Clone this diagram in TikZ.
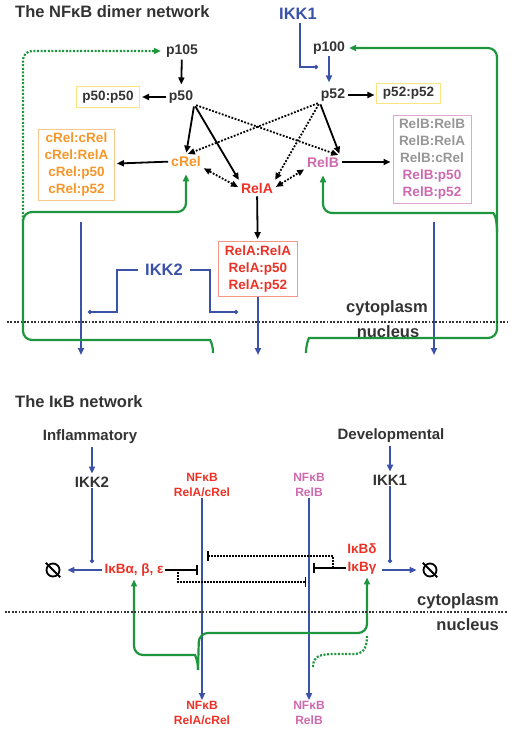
\documentclass[tikz,border=0pt]{standalone}
\usepackage{fontspec}
\setmainfont{Liberation Sans}
\usepackage{tikz}
\usetikzlibrary{arrows,arrows.meta}
\usetikzlibrary{positioning}

\definecolor{txtgray}{RGB}{51,51,51}
\definecolor{ikkblue}{RGB}{58,82,168}
\definecolor{loopgreen}{RGB}{30,150,62}
\definecolor{relared}{RGB}{236,50,38}
\definecolor{crelorange}{RGB}{247,150,40}
\definecolor{relbpink}{RGB}{205,105,175}
\definecolor{dimgray}{RGB}{150,150,150}
\definecolor{boxyellow}{RGB}{252,228,130}
\definecolor{boxorange}{RGB}{250,200,140}
\definecolor{boxred}{RGB}{245,150,135}
\definecolor{boxpink}{RGB}{225,165,210}

\begin{document}
\begin{tikzpicture}[x=1pt, y=-1pt,
	every node/.style={font=\bfseries\fontsize{14}{16}\selectfont, text=txtgray, inner sep=1pt},
	title/.style={font=\bfseries\fontsize{16.5}{19}\selectfont, anchor=west},
	big/.style={font=\bfseries\fontsize{16.5}{19}\selectfont},
	mid/.style={font=\bfseries\fontsize{15}{18}\selectfont},
	small/.style={font=\bfseries\fontsize{12}{15}\selectfont, align=center},
	dimbox/.style={draw, line width=1pt, align=center, inner xsep=6pt, inner ysep=4pt, font=\bfseries\fontsize{13.5}{17}\selectfont},
	tip/.style={-{Triangle[length=7pt,width=6pt]}},
	arr/.style={tip, line width=1.8pt, black, shorten >=2pt, shorten <=2pt},
	dotarr/.style={arr, dash pattern=on 1.8pt off 1.6pt},
	dotboth/.style={dotarr, {Triangle[length=7pt,width=6pt]}-{Triangle[length=7pt,width=6pt]}},
	barr/.style={tip, line width=1.8pt, ikkblue},
	bhit/.style={-{Circle[length=4pt]}, line width=1.8pt, ikkblue},
	inh/.style={-{Bar[width=10pt]}, line width=1.8pt, black},
	dotinh/.style={inh, line width=1.5pt, dash pattern=on 1.5pt off 1.5pt},
	gline/.style={line width=2.2pt, loopgreen, rounded corners=9pt},
	garr/.style={gline, tip},
	gdot/.style={gline, dash pattern=on 2pt off 1.6pt},
	divider/.style={line width=1.8pt, dash pattern=on 1.8pt off 1.6pt, txtgray},
	degr/.style={circle, draw, line width=1.8pt, minimum size=13pt, inner sep=0pt}
	]
	\useasboundingbox (0,0) rectangle (514,735);

	% the NFkB dimer network
	\node[title] (title1) at (14,12) {The NFκB dimer network};
	\node (p105) at (182,51) {p105};
	\node (p50) at (181,97) {p50};
	\node[dimbox, draw=boxyellow, minimum height=20pt] (p50p50) at (108,97) {p50:p50};
	\node[text=crelorange] (cRel) at (186,161) {cRel};
	\node[text=relared] (RelA) at (257,188) {RelA};
	\node[text=relbpink] (RelB) at (323,162) {RelB};
	\node[dimbox, draw=boxorange, text=crelorange] (crelbox) at (76.5,165) {cRel:cRel\\cRel:RelA\\cRel:p50\\cRel:p52};
	\node[big, text=ikkblue] (IKK1a) at (298,14) {IKK1};
	\node (p100) at (329,48) {p100};
	\node (p52) at (333,95) {p52};
	\node[dimbox, draw=boxyellow, minimum height=20pt] (p52p52) at (408.5,93.5) {p52:p52};
	\node[dimbox, draw=boxpink, text=dimgray] (relbbox) at (432,159.5) {RelB:RelB\\RelB:RelA\\RelB:cRel\\\textcolor{relbpink}{RelB:p50}\\\textcolor{relbpink}{RelB:p52}};
	\node[dimbox, draw=boxred, text=relared] (relabox) at (258,269) {RelA:RelA\\RelA:p50\\RelA:p52};
	\node[big, text=ikkblue] (IKK2a) at (164,270) {IKK2};
	\node[big] (cyto1) at (387,308) {cytoplasm};
	\node[big] (nuc1) at (388,332) {nucleus};

	\coordinate (ikk1hit) at (318,67);
	\coordinate (ikk2hitL) at (88,312);
	\coordinate (ikk2hitR) at (238,312);
	\coordinate (crelout) at (81,222);
	\coordinate (crelin) at (81,355);
	\coordinate (relbout) at (434,222);
	\coordinate (relbin) at (434,355);
	\coordinate (gLtip) at (213,353);
	\coordinate (gLfork) at (23,221);
	\coordinate (gRtip) at (306,353);
	\coordinate (gRfork) at (497,232);

	\draw[arr, shorten <=1pt, shorten >=5pt] (p105) -- (p50);
	\draw[arr] (p50) -- (p50p50);
	\draw[arr] (p50.south east) -- (cRel.north);
	\draw[arr] (p50.south east) -- (RelA.north west);
	\draw[dotarr] (p50.south east) -- (RelB.north east);
	\draw[dotarr] (p52.south west) -- (cRel.north);
	\draw[dotarr] (p52.south west) -- (RelA.north east);
	\draw[arr] (p52.south west) -- (RelB.north east);
	\draw[dotboth] (RelA.west) -- (cRel.south east);
	\draw[dotboth] (RelA.east) -- (RelB.south west);
	\draw[arr] (cRel) -- (crelbox);
	\draw[arr] (RelB) -- (relbbox.west |- RelB);
	\draw[arr] (RelA) -- (relabox);
	\draw[arr] (p52) -- (p52p52.west |- p52);
	\draw[barr, shorten >=5pt] (p100) -- (p100 |- p52.north);
	\draw[bhit] (IKK1a.south) ++(2,2) |- (ikk1hit);
	\draw[bhit, shorten <=6pt] (IKK2a.west) -- ++(-27,0) |- (ikk2hitL);
	\draw[bhit, shorten <=6pt] (IKK2a.east) -- ++(26,0) |- (ikk2hitR);
	\draw[barr] (crelout) -- (crelin);
	\draw[barr] (relabox) -- (relabox.south |- crelin);
	\draw[barr] (relbout) -- (relbin);

	\draw[garr, shorten >=7pt] (gLtip) .. controls (213,344) and (210,340) .. (201,340) -- (23,340) -- (23,212) -| (cRel.south);
	\draw[gdot, tip, shorten >=4pt] (gLfork) |- (p105.west);
	\draw[garr, shorten >=3pt] (gRtip) .. controls (306,344) and (309,338) .. (318,338) -- (497,338) |- (p100.east);
	\draw[garr, shorten >=7pt] (gRfork) .. controls (497,218) and (494,213) .. (484,213) -| (RelB.south);

	\draw[divider] (7,322) -- (508,322);

	% the IkB network
	\node[title] (title2) at (14,402) {The IκB network};
	\node[mid] (infl) at (90,437) {Inflammatory};
	\node[mid] (IKK2b) at (92,482) {IKK2};
	\node[mid] (devel) at (391,436) {Developmental};
	\node[mid] (IKK1b) at (390,480) {IKK1};
	\node[small, text=relared] (nfA) at (202,485) {NFκB\\RelA/cRel};
	\node[small, text=relbpink] (nfB) at (309,485) {NFκB\\RelB};
	\node[small, text=relared] (nfAn) at (202,713) {NFκB\\RelA/cRel};
	\node[small, text=relbpink] (nfBn) at (309,713) {NFκB\\RelB};
	\node[text=relared, font=\bfseries\fontsize{13.5}{18}\selectfont] (ikba) at (134,570) {IκBα, β, ε};
	\node[text=relared, align=center, font=\bfseries\fontsize{13.5}{18}\selectfont] (ikbd) at (362,559) {IκBδ\\IκBγ};
	\node[degr] (deg1) at (53,570) {};
	\node[degr] (deg2) at (430,570) {};
	\draw[line width=1.8pt] ([shift={(-2,-2)}]deg1.north west) -- ([shift={(2,2)}]deg1.south east);
	\draw[line width=1.8pt] ([shift={(-2,-2)}]deg2.north west) -- ([shift={(2,2)}]deg2.south east);
	\node[big, anchor=east] (cyto2) at (500,601) {cytoplasm};
	\node[big, anchor=east] (nuc2) at (500,625) {nucleus};

	\coordinate (ikk2hit) at (92,563);
	\coordinate (ikk1hit2) at (390,563);
	\coordinate (barA) at (198,570);
	\coordinate (barD) at (313,568);
	\coordinate (dotA) at (178,572);
	\coordinate (barB) at (306,582);
	\coordinate (barC) at (207,556);
	\coordinate (dotD) at (333,567);
	\coordinate (gBtip) at (198,670);
	\coordinate (gBdot) at (313,667);

	\draw[barr, shorten <=2pt, shorten >=2pt] (IKK2b |- infl.south) -- (IKK2b);
	\draw[barr, shorten <=2pt, shorten >=2pt] (IKK1b |- devel.south) -- (IKK1b);
	\draw[bhit] (IKK2b) -- (ikk2hit);
	\draw[bhit] (IKK1b) -- (ikk1hit2);
	\draw[barr, shorten <=1pt, shorten >=7pt] (ikba) -- (deg1);
	\draw[barr, shorten <=4pt, shorten >=6pt] (ikbd.east |- deg2) -- (deg2);
	\draw[barr] (nfA) -- (nfAn);
	\draw[barr] (nfB) -- (nfBn);
	\draw[inh] (ikba) -- (barA);
	\draw[inh] (ikbd.west |- barD) -- (barD);
	\draw[dotinh] (dotA) |- (barB);
	\draw[dotinh, {Bar[width=10pt]}-] (barC) -| (dotD);

	\draw[garr, shorten >=2pt] (gBtip) .. controls (198,661) and (195,655) .. (186,655) -| (ikba.south);
	\draw[garr, shorten >=2pt] (gBtip) -- (199,633) -| ([xshift=5pt]ikbd.south);
	\draw[gdot] (gBdot) .. controls (313,656) and (320,654) .. (344,654) .. controls (362,654) and (367,650) .. (367,636);

	\draw[divider] (5,612) -- (508,612);
\end{tikzpicture}
\end{document}
